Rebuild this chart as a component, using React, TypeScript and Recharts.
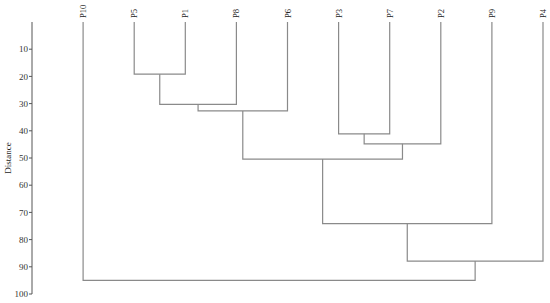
import { LineChart, Line, XAxis, YAxis, Label } from "recharts";

// leaf order along the x axis
const leaves = ["P10", "P5", "P1", "P8", "P6", "P3", "P7", "P2", "P9", "P4"];

// merge steps: left child, right child, distance (C1..C9 = result of step 1..9)
const mergeLeft = ["P5", "C1", "C2", "P3", "C4", "C3", "C6", "C7", "P10"];
const mergeRight = ["P1", "P8", "P6", "P7", "P2", "C5", "P9", "P4", "C8"];
const mergeHeight = [19.2, 30.3, 32.7, 41.1, 44.8, 50.4, 74.1, 87.9, 95.0];

const yTicks = [10, 20, 30, 40, 50, 60, 70, 80, 90, 100];

type Pt = { x: number; y: number };

function buildLinks(): Pt[][] {
  const pos: Record<string, Pt> = {};
  leaves.forEach((name, i) => {
    pos[name] = { x: i, y: 0 };
  });
  return mergeHeight.map((h, i) => {
    const a = pos[mergeLeft[i]];
    const b = pos[mergeRight[i]];
    pos["C" + (i + 1)] = { x: (a.x + b.x) / 2, y: h };
    return [
      { x: a.x, y: a.y },
      { x: a.x, y: h },
      { x: b.x, y: h },
      { x: b.x, y: b.y },
    ];
  });
}

const links = buildLinks();

const LeafTick = (props: any) => {
  const { x, payload } = props;
  return (
    <text
      x={0}
      y={0}
      transform={`translate(${x + 3},18) rotate(-90)`}
      textAnchor="start"
      fontSize={8.5}
      fontFamily="Liberation Serif"
      fill="#222"
    >
      {leaves[payload.value]}
    </text>
  );
};

export default function App() {
  return (
    <div style={{ position: "absolute", left: 0, top: 0, background: "#fff" }}>
      <LineChart
        width={550}
        height={303}
        margin={{ top: 0, right: 7, bottom: 9, left: 0 }}
      >
        <XAxis
          xAxisId={0}
          type="number"
          dataKey="x"
          domain={[-1, 9]}
          ticks={leaves.map((_, i) => i)}
          interval={0}
          orientation="top"
          height={22}
          axisLine={false}
          tickLine={false}
          tick={<LeafTick />}
        />
        <YAxis
          type="number"
          dataKey="y"
          reversed
          domain={[0, 100]}
          ticks={yTicks}
          interval={0}
          width={32}
          tickSize={3}
          tickMargin={1}
          axisLine={{ stroke: "#555" }}
          tickLine={{ stroke: "#555" }}
          tick={{ fontSize: 9, fontFamily: "Liberation Serif", fill: "#333" }}
        >
          <Label
            value="Distance"
            angle={-90}
            position="insideLeft"
            offset={8}
            style={{ fontSize: 9, fontFamily: "Liberation Serif", fill: "#222", textAnchor: "middle" }}
          />
        </YAxis>
        {links.map((d, i) => (
          <Line
            key={i}
            data={d}
            dataKey="y"
            type="linear"
            stroke="#8a8a8a"
            strokeWidth={1.2}
            dot={false}
            activeDot={false}
            isAnimationActive={false}
          />
        ))}
      </LineChart>
    </div>
  );
}
